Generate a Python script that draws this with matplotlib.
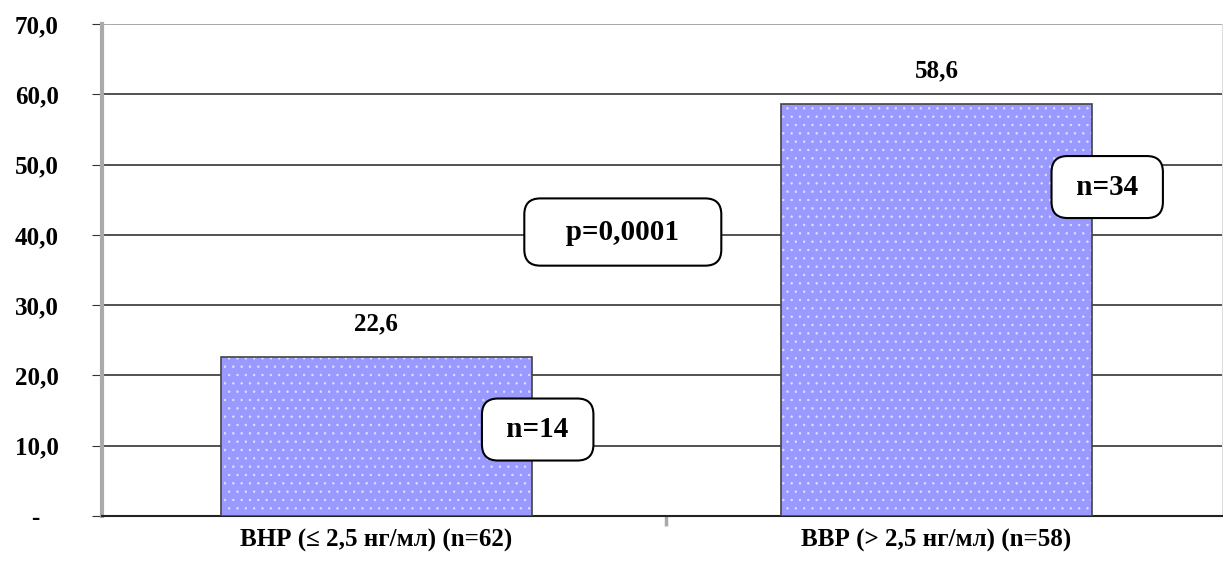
import matplotlib.pyplot as plt
from matplotlib.ticker import FuncFormatter

plt.rcParams['font.family'] = ['Liberation Serif', 'DejaVu Serif']
plt.rcParams['font.weight'] = 'bold'
plt.rcParams['hatch.linewidth'] = 0.5

categories = ["ВНР (≤ 2,5 нг/мл) (n=62)", "ВВР (> 2,5 нг/мл) (n=58)"]
values = [22.6, 58.6]
value_labels = ["22,6", "58,6"]
n_labels = ["n=14", "n=34"]
p_label = "p=0,0001"

fig = plt.figure(figsize=(12.23, 5.62), dpi=100)
ax = fig.add_axes([0.0834, 0.0819, 0.9158, 0.8754])

x = list(range(len(categories)))
bar_w = 0.555
# hatched fill (white dots) then the outline on top
ax.bar(x, values, width=bar_w, color='#9999FF', edgecolor='#e2e2ff',
       hatch='..', linewidth=0, zorder=3)
ax.bar(x, values, width=bar_w, fill=False, edgecolor='#444444',
       linewidth=1.2, zorder=4)

for xi, v, lab in zip(x, values, value_labels):
    ax.annotate(lab, (xi, v), xytext=(0, 16), textcoords='offset points',
                ha='center', va='bottom', fontsize=18, fontweight='bold')

ax.set_xlim(-0.49, 1.51)
ax.set_ylim(0, 70)
ax.set_yticks(range(0, 71, 10))
ax.yaxis.set_major_formatter(FuncFormatter(
    lambda v, p: '-   ' if v == 0 else f"{v:.1f}".replace('.', ',')))
ax.set_xticks([0.517])
ax.set_xticklabels([''])
ax.tick_params(axis='x', length=7, width=2.5, color='#aaaaaa')
ax.tick_params(axis='y', length=7, color='#333333', labelsize=18, pad=24)
for lab in ax.get_yticklabels():
    lab.set_fontweight('bold')

for xi, c in zip(x, categories):
    ax.text(xi, -0.027, c, transform=ax.get_xaxis_transform(),
            ha='center', va='top', fontsize=18, fontweight='bold')

ax.grid(axis='y', color='#333333', linewidth=1.2, zorder=0)
ax.get_ygridlines()[-1].set_color('#999999')
ax.set_axisbelow(True)
ax.spines['top'].set_visible(False)
ax.spines['right'].set_color('#dddddd')
ax.spines['left'].set_color('#aaaaaa')
ax.spines['left'].set_linewidth(3)
ax.spines['bottom'].set_color('#222222')
ax.spines['bottom'].set_linewidth(1.5)

box_p = dict(boxstyle='round,pad=0.69,rounding_size=0.55', facecolor='white',
             edgecolor='black', linewidth=1.5)
box_n = dict(boxstyle='round,pad=0.6,rounding_size=0.55', facecolor='white',
             edgecolor='black', linewidth=1.5)
ax.text(0.44, 40.4, '   ' + p_label + '   ', ha='center', va='center',
        fontsize=21, fontweight='bold', bbox=box_p, zorder=6)
ax.text(0.288, 12.3, ' ' + n_labels[0] + ' ', ha='center', va='center',
        fontsize=21, fontweight='bold', bbox=box_n, zorder=6)
ax.text(1.305, 46.8, ' ' + n_labels[1] + ' ', ha='center', va='center',
        fontsize=21, fontweight='bold', bbox=box_n, zorder=6)

fig.savefig('out.png', dpi=100)
